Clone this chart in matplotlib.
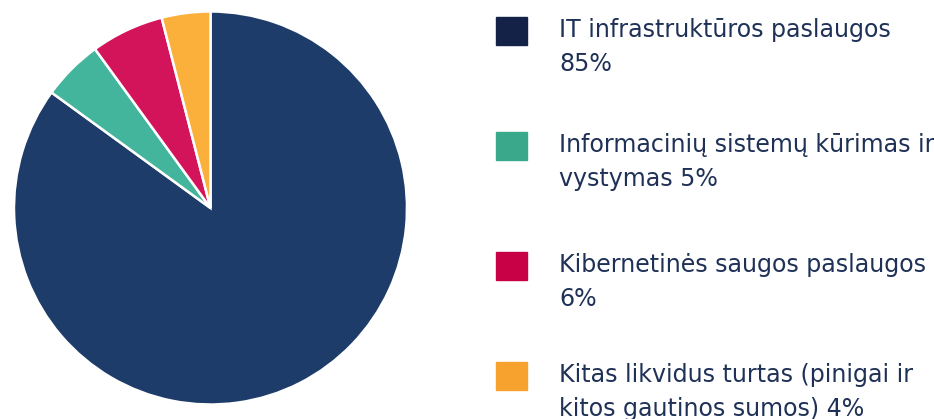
import matplotlib
matplotlib.use("Agg")
import matplotlib.pyplot as plt
from matplotlib.patches import Rectangle

labels = ["IT infrastruktūros paslaugos\n85%",
          "Informacinių sistemų kūrimas ir\nvystymas 5%",
          "Kibernetinės saugos paslaugos\n6%",
          "Kitas likvidus turtas (pinigai ir\nkitos gautinos sumos) 4%"]
values = [85, 5, 6, 4]
pie_colors = ["#1d3c69", "#43b59c", "#d4145a", "#fbb03b"]
legend_colors = ["#152247", "#3aa88a", "#c80046", "#f7a22e"]

W, H = 934, 419
fig = plt.figure(figsize=(W/100, H/100), dpi=100)

cx, cy, r = 210.5, 208, 197.5
ax = fig.add_axes([(cx-r)/W, (H-cy-r)/H, 2*r/W, 2*r/H])
ax.pie(values, colors=pie_colors, startangle=90, counterclock=False,
       wedgeprops=dict(edgecolor="white", linewidth=1.8), radius=1)
ax.set_xlim(-1.005, 1.005)
ax.set_ylim(-1.005, 1.005)
ax.set_aspect("equal")
ax.axis("off")

sq_x, sq_w, sq_h = 496, 31, 28
tops = [17, 132, 252, 362]
text_x = 559
for lab, col, top in zip(labels, legend_colors, tops):
    fig.patches.append(Rectangle((sq_x/W, (H-top-sq_h)/H), sq_w/W, sq_h/H,
                                 transform=fig.transFigure, color=col))
    fig.text(text_x/W, (H-top-1)/H, lab, ha="left", va="top",
             fontsize=17.1, color="#1f3157", family="DejaVu Sans",
             linespacing=1.55)

fig.savefig("out.png", dpi=100)
